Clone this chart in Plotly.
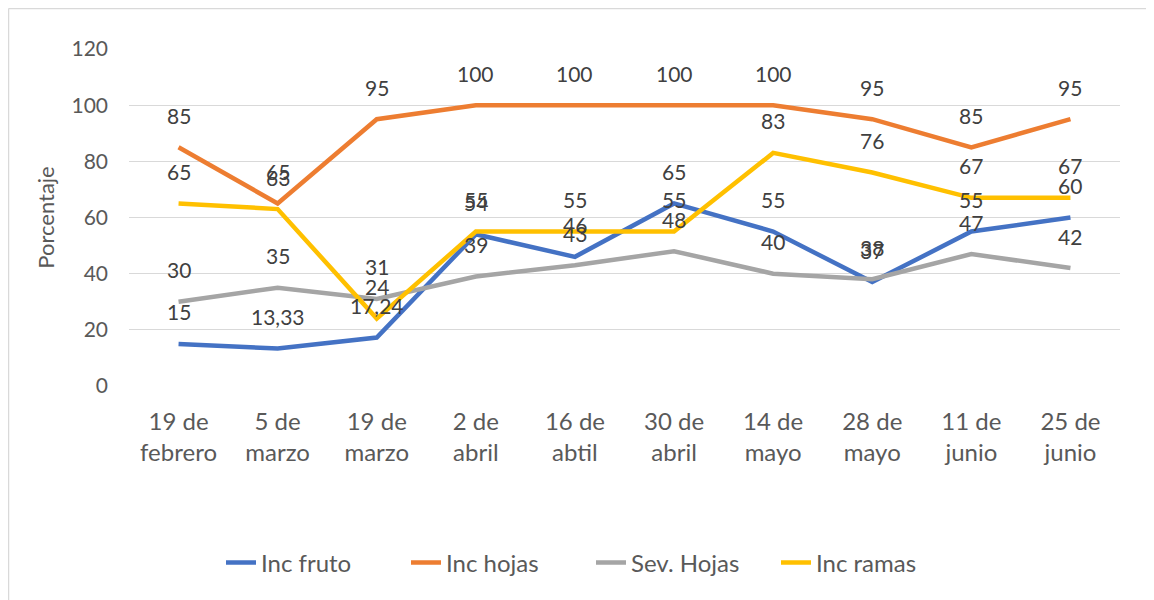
import plotly.graph_objects as go

categories = ["19 de<br>febrero", "5 de<br>marzo", "19 de<br>marzo", "2 de<br>abril", "16 de<br>abtil",
              "30 de<br>abril", "14 de<br>mayo", "28 de<br>mayo", "11 de<br>junio", "25 de<br>junio"]
inc_fruto = [15, 13.33, 17.24, 54, 46, 65, 55, 37, 55, 60]
inc_hojas = [85, 65, 95, 100, 100, 100, 100, 95, 85, 95]
sev_hojas = [30, 35, 31, 39, 43, 48, 40, 38, 47, 42]
inc_ramas = [65, 63, 24, 55, 55, 55, 83, 76, 67, 67]

series = [
    ("Inc fruto", inc_fruto, "#4472C4"),
    ("Inc hojas", inc_hojas, "#ED7D31"),
    ("Sev. Hojas", sev_hojas, "#A5A5A5"),
    ("Inc ramas", inc_ramas, "#FFC000"),
]

FONT = "Lato, Open Sans, sans-serif"

def fmt(v):
    if float(v).is_integer():
        return str(int(v))
    return f"{v:.2f}".replace(".", ",")

fig = go.Figure()
annotations = []
for name, vals, color in series:
    fig.add_trace(go.Scatter(x=categories, y=vals, mode="lines", name=name,
                             line=dict(color=color, width=4.5),
                             hoverinfo="skip"))
    for c, v in zip(categories, vals):
        annotations.append(dict(x=c, y=v, text=fmt(v), showarrow=False, yshift=32,
                                font=dict(family=FONT, size=21, color="#404040")))

# page is offset by 8px body margin
ML, MR, MT, MB = 121, 34, 41, 214
W, H = 1146, 592
pw, ph = W - ML - MR, H - MT - MB

def px(x):
    return (x - ML) / pw

def py(y):
    return (H - MB - y) / ph

shapes = [
    dict(type="line", xref="paper", yref="paper", x0=px(0.5), x1=px(W), y0=py(0.5), y1=py(0.5),
         line=dict(color="#D9D9D9", width=1.5)),
    dict(type="line", xref="paper", yref="paper", x0=px(0.5), x1=px(0.5), y0=py(0.5), y1=py(H),
         line=dict(color="#D9D9D9", width=1.5)),
]

fig.update_layout(
    width=W, height=H,
    margin=dict(l=ML, r=MR, t=MT, b=MB),
    paper_bgcolor="white", plot_bgcolor="white",
    font=dict(family=FONT, color="#595959"),
    showlegend=True,
    legend=dict(orientation="h", x=px(583), xanchor="center", y=py(555), yanchor="middle",
                font=dict(family=FONT, size=24, color="#595959"),
                entrywidth=140, entrywidthmode="pixels",
                tracegroupgap=0),
    annotations=annotations,
    shapes=shapes,
    xaxis=dict(type="category", showgrid=False, zeroline=False, showline=False,
               ticks="", tickfont=dict(family=FONT, size=24, color="#595959"),
               ticklabelstandoff=19, range=[-0.5, 9.5]),
    yaxis=dict(range=[0, 120], dtick=20, showgrid=True, gridcolor="#D9D9D9", gridwidth=1,
               zeroline=False, showline=False, ticks="", ticklabelstandoff=20,
               tickfont=dict(family=FONT, size=21, color="#595959"),
               title=dict(text="Porcentaje", font=dict(family=FONT, size=22, color="#595959"),
                          standoff=10)),
)

fig.write_html("out.html")
